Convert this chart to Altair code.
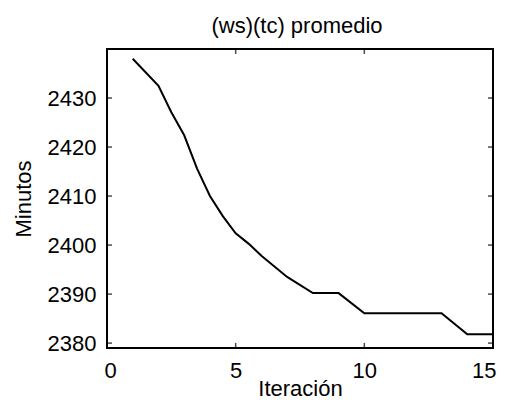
import altair as alt
import pandas as pd

# Data
iteracion = [1, 2, 2.5, 3, 3.5, 4, 4.5, 5, 5.5, 6, 7, 8, 9, 10, 11, 12, 13, 14, 15]
minutos = [2438, 2432.5, 2427.1, 2422.4, 2415.6, 2410, 2405.9, 2402.4, 2400.3,
           2397.8, 2393.5, 2390.2, 2390.2, 2386.1, 2386.1, 2386.1, 2386.1, 2381.8, 2381.8]
x_ticks = [0, 5, 10, 15]
y_ticks = [2380, 2390, 2400, 2410, 2420, 2430]
x_domain = [0, 15]
y_domain = [2379, 2440]

W, H = 386, 299
FONT = "Liberation Sans"

df = pd.DataFrame({"it": iteracion, "min": minutos})
xt = pd.DataFrame({"it": x_ticks})
yt = pd.DataFrame({"min": y_ticks})

xscale = alt.Scale(domain=x_domain, nice=False, zero=False)
yscale = alt.Scale(domain=y_domain, nice=False, zero=False)
xaxis = alt.Axis(values=x_ticks, tickSize=0, domain=False, grid=False,
                 labelPadding=12, titlePadding=-3, format="d",
                 labelFlush=True, labelFlushOffset=3)
yaxis = alt.Axis(values=y_ticks, tickSize=0, domain=False, grid=False,
                 labelPadding=11, titlePadding=12, format="d")


def X():
    return alt.X("it:Q", scale=xscale, title="Iteración", axis=xaxis)


def Y():
    return alt.Y("min:Q", scale=yscale, title="Minutos", axis=yaxis)


line = alt.Chart(df).mark_line(color="black", strokeWidth=2).encode(x=X(), y=Y())

tick_len = 5
bottom = alt.Chart(xt).mark_tick(size=tick_len, thickness=1.5, color="black",
                                  yOffset=-tick_len / 2).encode(x=X(), y=alt.value(H))
top = alt.Chart(xt).mark_tick(size=tick_len, thickness=1.5, color="black",
                               yOffset=tick_len / 2).encode(x=X(), y=alt.value(0))
left = alt.Chart(yt).mark_tick(size=tick_len, thickness=1.5, color="black",
                                xOffset=tick_len / 2).encode(y=Y(), x=alt.value(0))
right = alt.Chart(yt).mark_tick(size=tick_len, thickness=1.5, color="black",
                                 xOffset=-tick_len / 2).encode(y=Y(), x=alt.value(W))

chart = alt.layer(line, bottom, top, left, right).properties(
    width=W, height=H,
    title=alt.TitleParams(text="(ws)(tc) promedio", font=FONT, fontSize=22,
                          fontWeight="normal", color="black", offset=11,
                          frame="group", dx=-3),
    autosize=alt.AutoSizeParams(type="none"),
    padding={"left": 99, "top": 41, "right": 4, "bottom": 54},
).configure_axis(
    labelFont=FONT, labelFontSize=22, labelColor="black",
    titleFont=FONT, titleFontSize=22, titleColor="black", titleFontWeight="normal",
).configure_view(stroke="black", strokeWidth=2)

chart.save("out.html", embed_options={"renderer": "svg", "actions": False})
